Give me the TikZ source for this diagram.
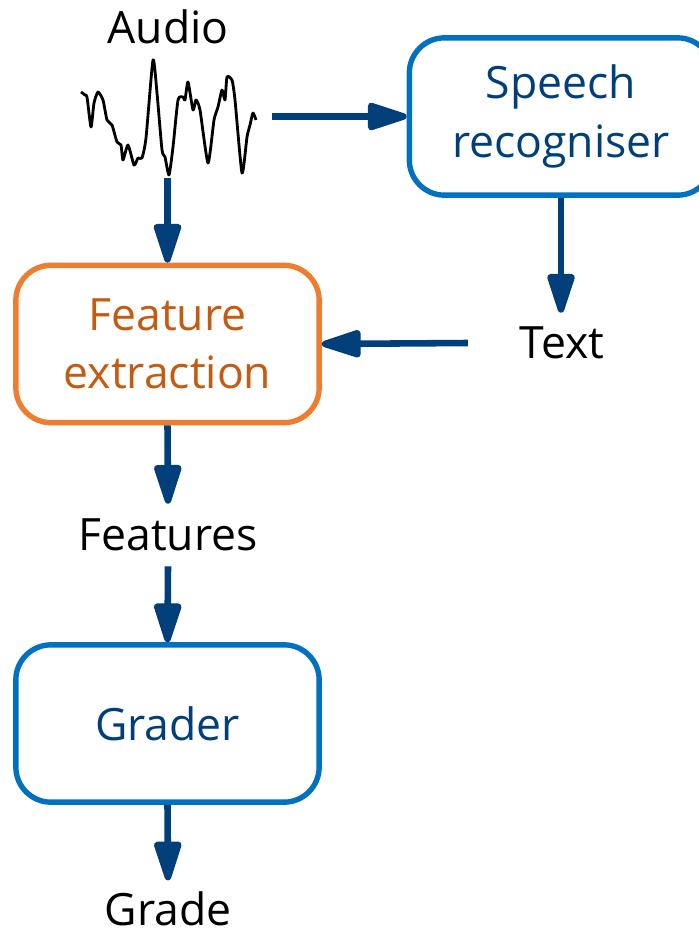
\documentclass[tikz,border=0pt]{standalone}
\usepackage{fontspec}
\setmainfont{Open Sans}
\usetikzlibrary{arrows.meta,positioning}
\definecolor{boxblue}{RGB}{0,112,192}
\definecolor{flowblue}{RGB}{0,63,122}
\definecolor{boxorange}{RGB}{237,125,49}
\definecolor{textorange}{RGB}{197,90,17}
\begin{document}
\begin{tikzpicture}[
    x=0.03cm, y=-0.03cm,
    font=\fontsize{38}{50}\selectfont,
    stage/.style={draw=boxblue, line width=4.6pt, rounded corners=30pt, text=flowblue,
        align=center, minimum width=9.1cm, minimum height=4.72cm},
    stage_orange/.style={stage, draw=boxorange, text=textorange},
    label/.style={inner sep=0pt, text height=0.95cm},
    flow/.style={draw=flowblue, line width=5.6pt,
        -{Triangle[length=40pt, width=24pt, round]}}
]
    \useasboundingbox (0,0) rectangle (698,936);

    % Stages
    \node[stage] (speech) at (561,116.5) {Speech\\recogniser};
    \node[stage_orange] (feat) at (167.5,344) {Feature\\extraction};
    \node[stage] (grader) at (167.5,723.5) {Grader};

    % Labels
    \node[label] (audio) at (168,28) {Audio};
    \node[label] (text) at (562,343) {Text};
    \node[label] (features) at (168,535) {Features};
    \node[label] (grade) at (168,910) {Grade};

    % Audio waveform
    \node[minimum width=5.76cm, minimum height=3.69cm, inner sep=0pt] (wave) at (176,116.5) {};
    \draw[line width=2.4pt, line join=round] plot[smooth, tension=0.35] coordinates {
        (81,92) (85,95) (87,97) (91,127) (94,103) (98,92) (103,100) (107,120)
        (112,125) (117,142) (121,145) (123,160) (128,145) (134,165) (138,158)
        (142,158) (146,138) (153,60) (157,93) (162,150) (165,157) (169,175)
        (173,147) (178,100) (183,97) (185,100) (188,82) (193,110) (196,100)
        (200,110) (208,163) (214,120) (218,107) (222,90) (225,100) (227,77)
        (232,80) (235,100) (242,173) (247,137) (250,125) (253,113) (256,120)};

    % Connectors
    \draw[flow] (wave.east |- speech) -- (speech.west);
    \draw[flow] (wave.south -| feat) -- (feat.north);
    \draw[flow] (speech.south) -- ([yshift=0.42cm]text.north -| speech.south);
    \draw[flow] ([xshift=-1.55cm]text.west) -- (feat.east);
    \draw[flow] (feat.south) -- ([yshift=0.45cm]features.north);
    \draw[flow] ([yshift=-0.45cm]features.south) -- (grader.north);
    \draw[flow] (grader.south) -- ([yshift=0.4cm]grade.north);

\end{tikzpicture}
\end{document}
